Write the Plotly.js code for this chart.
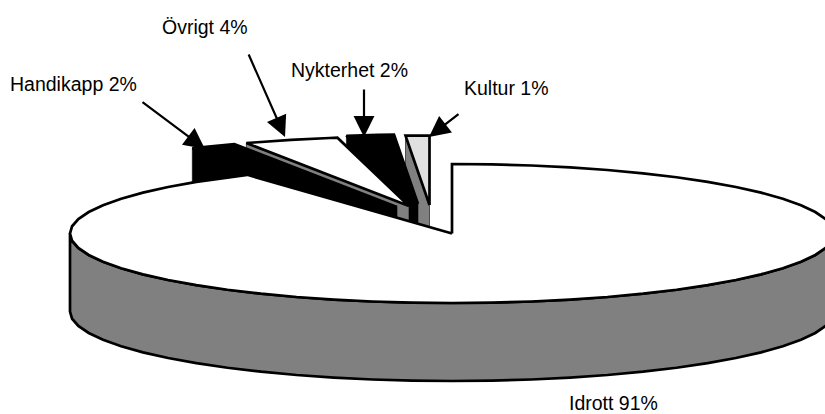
<!DOCTYPE html>
<html>
<head>
<meta charset="utf-8">
<script src="https://cdn.plot.ly/plotly-3.0.1.min.js"></script>
<style>html,body{margin:0;padding:0;background:#fff}#chart{width:825px;height:414px}</style>
</head>
<body>
<div id="chart"></div>
<script>
// Data
const categories = ["Idrott", "Handikapp", "Övrigt", "Nykterhet", "Kultur"];
const shares = [91, 2, 4, 2, 1];

// Presentation of the exploded 3D pie (pixel scale of the hidden axes)
const topColors = ["#ffffff", "#000000", "#ffffff", "#000000", "#e0e0e0"];
const sideColors = ["#808080", "#000000", "#808080", "#000000", "#808080"];
const explodeX = [0, -55, -43, -34, -22.5];
const explodeY = [0, -26.5, -27.5, -29.5, -28.5];
const labelX = [613.5, 73, 205, 349, 506];
const labelY = [403, 84, 27, 70, 88];
const arrowTail = [null, [141, 101], [248, 53], [364, 88], [460, 113]];
const arrowTip = [null, [205, 149], [285, 137], [364, 137], [429, 137]];

const CX = 452, CY = 233.5, RX = 382, RY = 69.5, DEPTH = 78, STEP = 6, LW = 2.7;

const total = shares.reduce((a, b) => a + b, 0);
const starts = [];
shares.reduce((acc, v, i) => { starts[i] = acc; return acc + v / total * 360; }, 0);
const rad = d => d * Math.PI / 180;
const px = (a, i) => CX + explodeX[i] + RX * Math.sin(rad(a));
const py = (a, i, drop) => CY + explodeY[i] - RY * Math.cos(rad(a)) + (drop || 0);

function arcAngles(a0, a1) {
  const out = [a0];
  let a = Math.ceil(a0 / STEP + 1e-6) * STEP;
  for (; a < a1 - 1e-6; a += STEP) out.push(a);
  out.push(a1);
  return out;
}
function poly(xs, ys, fill, name, lw) {
  return {
    type: "scatter", mode: "lines", x: xs.concat(xs[0]), y: ys.concat(ys[0]),
    fill: "toself", fillcolor: fill, name: name, hoverinfo: "skip", showlegend: false,
    line: { color: "#000000", width: lw, shape: "linear" }
  };
}
function topFace(i) {
  const a0 = starts[i], a1 = a0 + shares[i] / total * 360;
  const ang = arcAngles(a0, a1);
  return poly([CX + explodeX[i]].concat(ang.map(a => px(a, i))),
              [CY + explodeY[i]].concat(ang.map(a => py(a, i))),
              topColors[i], categories[i] + " top", LW);
}
function radialWall(i) {
  const a0 = starts[i];
  const ax = CX + explodeX[i], ay = CY + explodeY[i];
  return poly([ax, px(a0, i), px(a0, i), ax],
              [ay, py(a0, i), py(a0, i, DEPTH), ay + DEPTH],
              sideColors[i], categories[i] + " side", 0.6);
}
function outerWall(i) {
  const ang = arcAngles(90, 270);
  const back = ang.slice().reverse();
  return poly(ang.map(a => px(a, i)).concat(back.map(a => px(a, i))),
              ang.map(a => py(a, i)).concat(back.map(a => py(a, i, DEPTH))),
              sideColors[i], categories[i] + " wall", LW);
}

const traces = [];
for (let i = categories.length - 1; i >= 1; i--) {
  traces.push(radialWall(i));
  traces.push(topFace(i));
}
traces.push(outerWall(0));
traces.push(topFace(0));

const annotations = categories.map((c, i) => ({
  x: labelX[i], y: labelY[i], xref: "x", yref: "y", showarrow: false,
  text: c + " " + shares[i] + "%", xanchor: "center", yanchor: "middle",
  font: { family: "Liberation Sans, Arial, sans-serif", size: 19.5, color: "#000000" }
}));
categories.forEach((c, i) => {
  if (!arrowTip[i]) return;
  annotations.push({
    x: arrowTip[i][0], y: arrowTip[i][1], ax: arrowTail[i][0], ay: arrowTail[i][1],
    xref: "x", yref: "y", axref: "x", ayref: "y", text: "", showarrow: true,
    arrowhead: 2, arrowsize: 1.9, arrowwidth: 2.2, arrowcolor: "#000000"
  });
});

const hidden = { visible: false, fixedrange: true, showgrid: false, zeroline: false };
Plotly.newPlot("chart", traces, {
  width: 825, height: 414,
  margin: { l: 0, r: 0, t: 0, b: 0, pad: 0 },
  paper_bgcolor: "#ffffff", plot_bgcolor: "#ffffff",
  showlegend: false,
  xaxis: Object.assign({ range: [0, 825] }, hidden),
  yaxis: Object.assign({ range: [414, 0] }, hidden),
  annotations: annotations
}, { displayModeBar: false, staticPlot: true });
</script>
</body>
</html>
